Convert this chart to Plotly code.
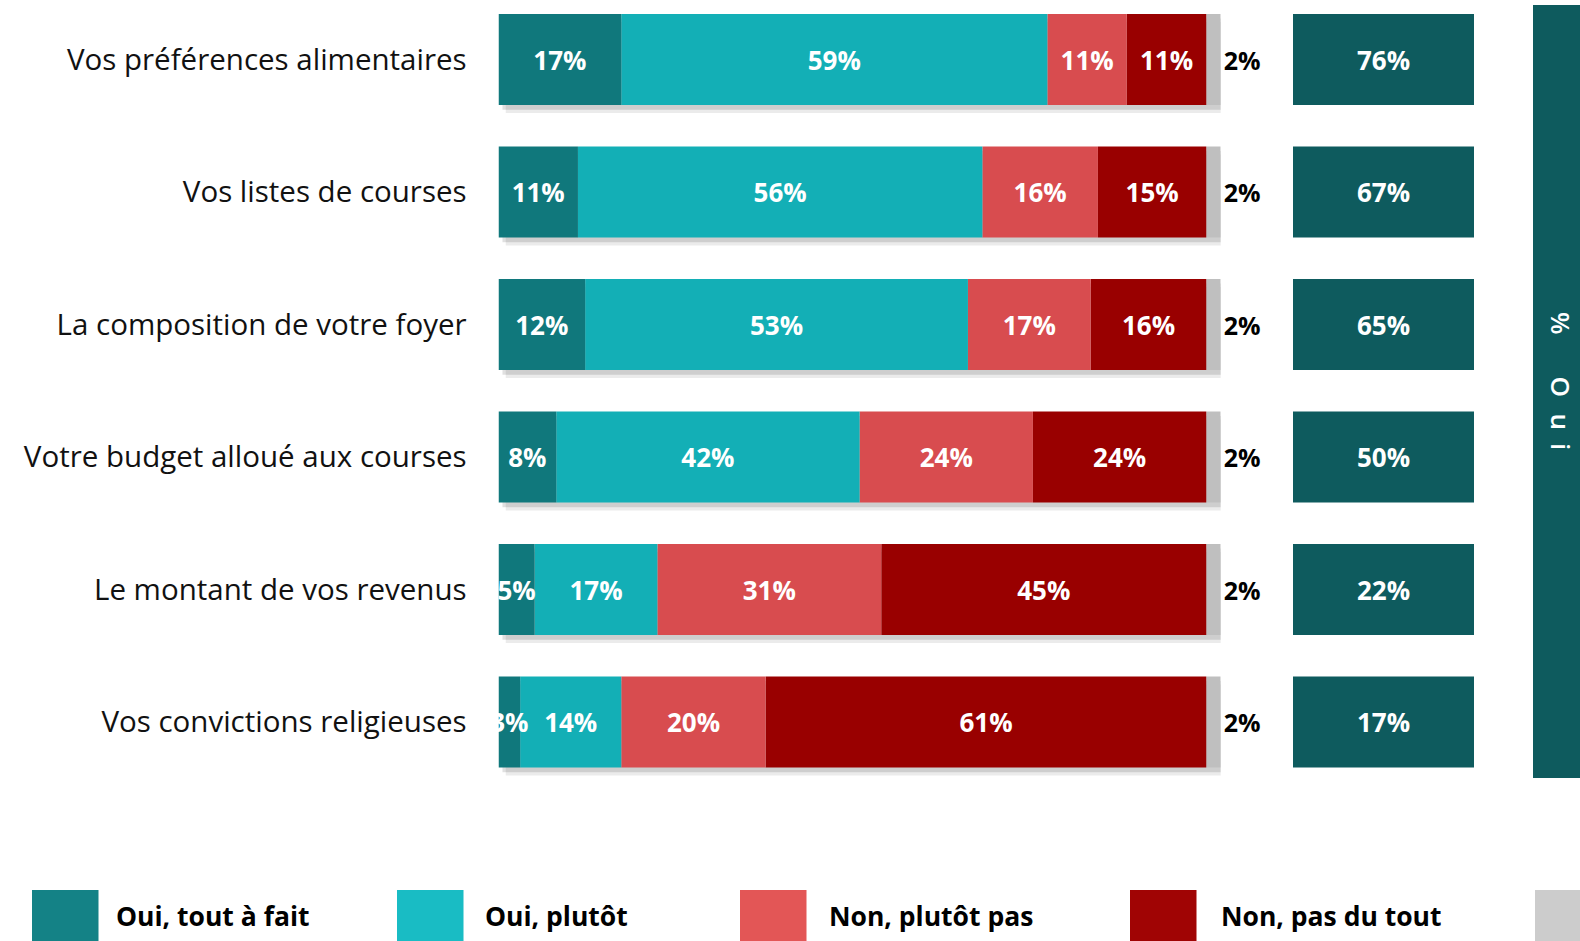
import plotly.graph_objects as go

categories = [
    "Vos préférences alimentaires",
    "Vos listes de courses",
    "La composition de votre foyer",
    "Votre budget alloué aux courses",
    "Le montant de vos revenus",
    "Vos convictions religieuses",
]
oui_tout_a_fait = [17, 11, 12, 8, 5, 3]
oui_plutot = [59, 56, 53, 42, 17, 14]
non_plutot_pas = [11, 16, 17, 24, 31, 20]
non_pas_du_tout = [11, 15, 16, 24, 45, 61]
nsp = [2, 2, 2, 2, 2, 2]
total_oui = [76, 67, 65, 50, 22, 17]

series_names = ["Oui, tout à fait", "Oui, plutôt", "Non, plutôt pas", "Non, pas du tout", ""]
series_values = [oui_tout_a_fait, oui_plutot, non_plutot_pas, non_pas_du_tout, nsp]
bar_colors = ["#10787c", "#13afb6", "#d84c4f", "#990000", "#bfbfbf"]
legend_colors = ["#148286", "#19bcc4", "#e35656", "#a00404", "#cccccc"]

W, H = 1580, 941
ypos = list(range(len(categories)))
BW = 0.687
LABEL_FONT = "Open Sans"

fig = go.Figure()

# soft shadow under each full bar
row_totals = [sum(v[i] for v in series_values) for i in ypos]
for dx, dy, a in [(1.0, 0.06, 0.08), (0.55, 0.035, 0.12)]:
    fig.add_trace(go.Bar(
        y=ypos, x=row_totals, base=[dx] * len(ypos), orientation="h",
        width=BW, offset=-BW / 2 + dy,
        marker=dict(color=f"rgba(0,0,0,{a})", line=dict(width=0)),
        hoverinfo="skip", showlegend=False, xaxis="x", yaxis="y",
    ))

# stacked segments (computed bases), drawn last-to-first so small labels stay on top
bases = []
cum = [0] * len(ypos)
for vals in series_values:
    bases.append(cum[:])
    cum = [c + v for c, v in zip(cum, vals)]

n_series = len(series_values)
for k in reversed(range(n_series)):
    name, vals, col, base = series_names[k], series_values[k], bar_colors[k], bases[k]
    last = k == n_series - 1
    fig.add_trace(go.Bar(
        y=ypos, x=vals, base=base, orientation="h", width=BW, name=name,
        marker=dict(color=col, line=dict(width=0)),
        text=[f"{v}%" for v in vals],
        textposition="outside" if last else "inside",
        insidetextanchor="middle", textangle=0, constraintext="none",
        textfont=dict(family=LABEL_FONT, size=25 if last else 26,
                      color="black" if last else "white", weight="bold"),
        cliponaxis=False, hoverinfo="skip",
        showlegend=False, xaxis="x", yaxis="y",
    ))

# total Oui boxes
fig.add_trace(go.Bar(
    y=ypos, x=[1] * len(ypos), orientation="h", width=BW,
    marker=dict(color="#0e5b5e", line=dict(width=0)),
    text=[f"{v}%" for v in total_oui], textposition="inside",
    insidetextanchor="middle", textangle=0, constraintext="none",
    textfont=dict(family=LABEL_FONT, size=26, color="white", weight="bold"),
    hoverinfo="skip", showlegend=False, xaxis="x2", yaxis="y",
))

# y range: row 0 centred at pixel 59.5, row 5 at 722
ppu = (722 - 59.5) / 5
y_top = -59.5 / ppu
y_bot = (H - 59.5) / ppu

fig.update_layout(
    width=W, height=H, autosize=False,
    margin=dict(l=0, r=0, t=0, b=0),
    paper_bgcolor="white", plot_bgcolor="rgba(0,0,0,0)",
    barmode="overlay", showlegend=False,
    xaxis=dict(domain=[498.5 / W, 1220.7 / W], range=[0, 100], visible=False, fixedrange=True),
    xaxis2=dict(domain=[1293 / W, 1474 / W], range=[0, 1], visible=False, fixedrange=True),
    yaxis=dict(
        domain=[0, 1], range=[y_bot, y_top], tickmode="array", tickvals=ypos,
        ticktext=categories, ticks="outside", ticklen=25, tickcolor="rgba(0,0,0,0)",
        showgrid=False, zeroline=False, showline=False, fixedrange=True,
        tickfont=dict(family=LABEL_FONT, size=29.5, color="#111111"),
    ),
)

# right-hand "% Oui" band
fig.add_shape(type="rect", xref="paper", yref="paper",
              x0=1533 / W, x1=1.0, y0=1 - 778 / H, y1=1 - 5 / H,
              fillcolor="#0e5b5e", line=dict(width=0), layer="below")
band_chars = ["%", "O", "u", "i"]
band_char_y = [323, 386.5, 421.5, 446]
for ch, cy in zip(band_chars, band_char_y):
    fig.add_annotation(xref="paper", yref="paper", x=1561 / W, y=1 - cy / H,
                       text=ch, textangle=90, showarrow=False,
                       xanchor="center", yanchor="middle",
                       font=dict(family=LABEL_FONT, size=26, color="white", weight=600))

# legend
leg_sq_x = [32, 397, 740, 1130, 1535]
leg_txt_x = [114, 483, 827, 1219, None]
for name, col, sx, tx in zip(series_names, legend_colors, leg_sq_x, leg_txt_x):
    fig.add_shape(type="rect", xref="paper", yref="paper",
                  x0=sx / W, x1=(sx + 66.5) / W, y0=0, y1=1 - 890 / H,
                  fillcolor=col, line=dict(width=0))
    if tx is not None and name:
        fig.add_annotation(xref="paper", yref="paper", x=tx / W, y=1 - 916 / H,
                           xanchor="left", yanchor="middle", text=name, showarrow=False,
                           font=dict(family="Liberation Sans Narrow, Open Sans", size=26.5,
                                     color="black", weight="bold"))

fig.write_html("out.html", config={"displayModeBar": False},
               post_script="document.body.style.margin='0';")
